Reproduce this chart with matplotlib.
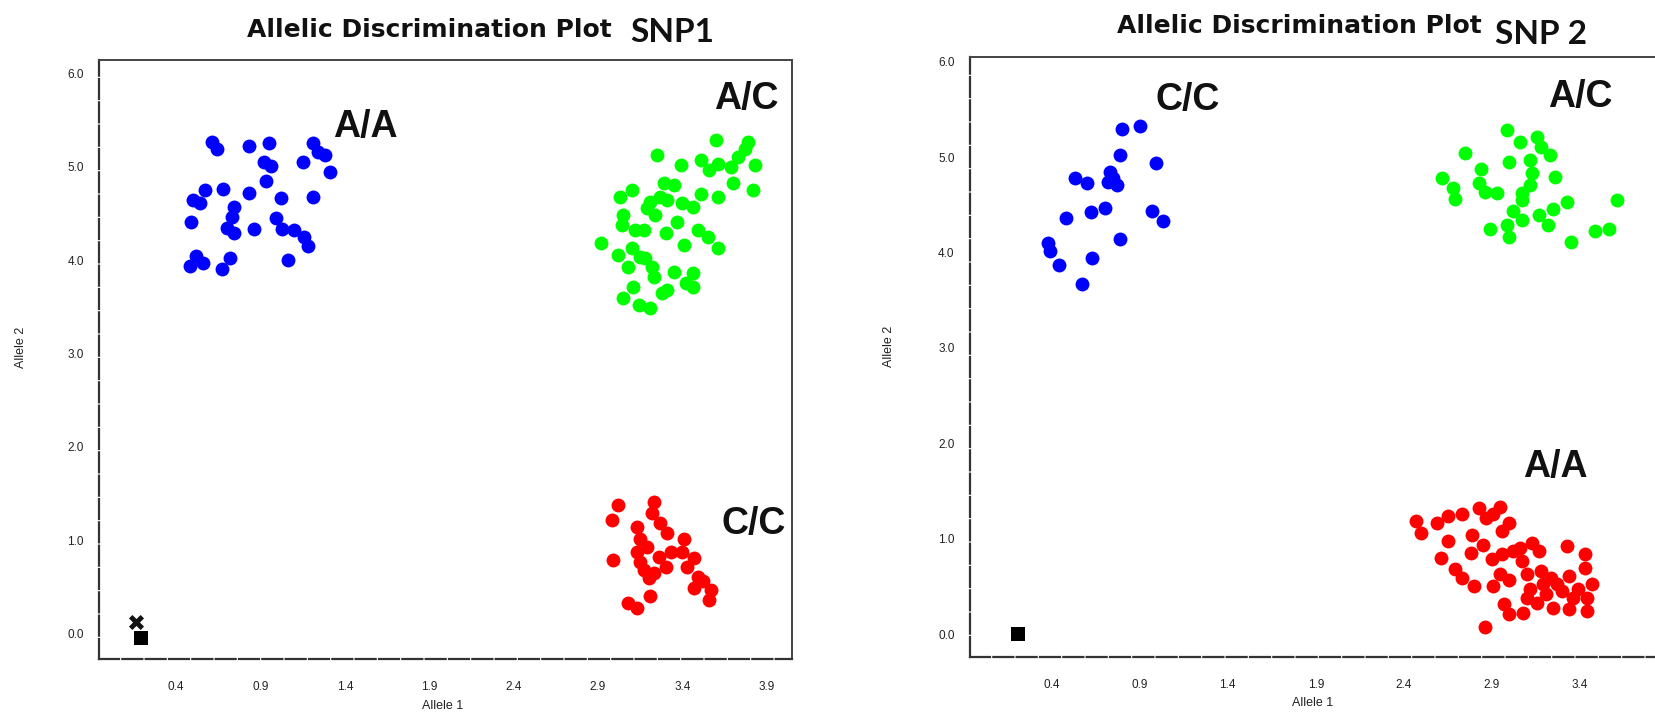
import numpy as np
from matplotlib import pyplot as plt

''' data read off the two allelic discrimination plots '''
x_ticks = [0.4, 0.9, 1.4, 1.9, 2.4, 2.9, 3.4, 3.9]
y_ticks = [0.0, 1.0, 2.0, 3.0, 4.0, 5.0, 6.0]

# SNP1
snp1_aa_x = [0.61, 0.64, 0.83, 0.95, 0.92, 0.96, 0.93, 1.21, 1.24, 1.28, 1.15, 1.31,
             0.57, 0.50, 0.54, 0.68, 0.83, 1.02, 1.21, 0.74, 0.73, 0.49, 0.70, 0.74,
             0.86, 0.99, 1.03, 1.10, 1.16, 1.18, 0.52, 0.48, 0.56, 0.72, 0.67, 1.06]
snp1_aa_y = [5.26, 5.19, 5.22, 5.25, 5.05, 5.01, 4.85, 5.25, 5.16, 5.12, 5.05, 4.94,
             4.75, 4.64, 4.61, 4.76, 4.72, 4.66, 4.67, 4.57, 4.46, 4.41, 4.34, 4.29,
             4.33, 4.45, 4.33, 4.32, 4.25, 4.15, 4.04, 3.94, 3.97, 4.02, 3.90, 4.00]

snp1_ac_x = [3.60, 3.79, 3.77, 3.25, 3.39, 3.51, 3.56, 3.61, 3.69, 3.73, 3.83, 3.29,
             3.35, 3.10, 3.03, 3.51, 3.61, 3.70, 3.82, 3.21, 3.27, 3.31, 3.40, 3.46,
             3.19, 3.24, 3.05, 3.04, 3.12, 3.17, 3.37, 3.30, 3.49, 3.55, 3.41, 3.61,
             2.92, 3.02, 3.10, 3.15, 3.08, 3.22, 3.23, 3.35, 3.46, 3.42, 3.46, 3.11,
             3.05, 3.14, 3.21, 3.28, 3.31, 3.18]
snp1_ac_y = [5.28, 5.26, 5.19, 5.12, 5.02, 5.07, 4.96, 5.03, 5.00, 5.10, 5.02, 4.82,
             4.80, 4.75, 4.67, 4.71, 4.67, 4.82, 4.75, 4.62, 4.67, 4.64, 4.61, 4.57,
             4.56, 4.48, 4.48, 4.37, 4.32, 4.32, 4.41, 4.29, 4.32, 4.25, 4.16, 4.13,
             4.18, 4.05, 4.13, 4.03, 3.93, 3.93, 3.82, 3.87, 3.86, 3.75, 3.71, 3.71,
             3.59, 3.52, 3.49, 3.65, 3.68, 4.02]

snp1_cc_x = [3.02, 2.98, 3.23, 3.22, 3.13, 3.27, 3.31, 3.41, 3.15, 2.99, 3.13, 3.19,
             3.26, 3.33, 3.40, 3.47, 3.43, 3.17, 3.23, 3.30, 3.20, 3.49, 3.52, 3.47,
             3.57, 3.56, 3.08, 3.13, 3.21, 3.15]
snp1_cc_y = [1.38, 1.22, 1.41, 1.29, 1.14, 1.19, 1.08, 1.01, 1.01, 0.79, 0.87, 0.93,
             0.82, 0.87, 0.87, 0.81, 0.72, 0.68, 0.65, 0.72, 0.60, 0.61, 0.56, 0.49,
             0.47, 0.36, 0.33, 0.28, 0.40, 0.77]

snp1_undet_x = [0.16]
snp1_undet_y = [0.13]
snp1_ntc_x = [0.19]
snp1_ntc_y = [-0.04]

# SNP 2
snp2_cc_x = [0.80, 0.90, 0.79, 0.99, 0.53, 0.60, 0.73, 0.72, 0.77, 0.70, 0.62,
             0.48, 0.97, 1.03, 0.79, 0.38, 0.39, 0.44, 0.63, 0.57, 0.75]
snp2_cc_y = [5.30, 5.33, 5.02, 4.94, 4.78, 4.73, 4.84, 4.74, 4.71, 4.47, 4.42,
             4.36, 4.44, 4.33, 4.14, 4.10, 4.02, 3.87, 3.94, 3.67, 4.78]

snp2_ac_x = [2.99, 2.75, 3.06, 3.16, 3.18, 3.23, 3.00, 3.12, 2.84, 3.13, 3.26,
             2.62, 2.68, 2.83, 2.86, 2.93, 3.07, 3.12, 2.69, 3.07, 3.61, 3.33,
             3.25, 3.02, 3.17, 3.07, 3.22, 2.89, 2.99, 3.00, 3.49, 3.57, 3.35]
snp2_ac_y = [5.28, 5.04, 5.16, 5.21, 5.11, 5.02, 4.95, 4.97, 4.88, 4.83, 4.79,
             4.78, 4.68, 4.73, 4.63, 4.62, 4.62, 4.71, 4.56, 4.55, 4.55, 4.53,
             4.46, 4.44, 4.39, 4.34, 4.29, 4.25, 4.29, 4.16, 4.23, 4.25, 4.11]

snp2_aa_x = [2.47, 2.50, 2.59, 2.65, 2.73, 2.83, 2.95, 2.87, 3.00, 2.96, 2.65,
             2.79, 2.61, 2.78, 2.85, 2.69, 2.73, 2.80, 2.91, 2.90, 2.96, 3.02,
             3.13, 3.17, 3.07, 2.95, 3.00, 3.10, 3.18, 3.24, 3.33, 3.43, 3.43,
             3.34, 3.47, 3.12, 3.21, 3.30, 3.39, 2.97, 3.00, 3.08, 3.16, 3.25,
             3.34, 3.44, 2.86, 3.44, 3.10, 3.27, 3.36, 3.19, 3.06, 2.91]
snp2_aa_y = [1.19, 1.06, 1.16, 1.24, 1.26, 1.32, 1.33, 1.22, 1.17, 1.08, 0.98,
             1.04, 0.80, 0.85, 0.93, 0.68, 0.59, 0.50, 0.50, 0.79, 0.84, 0.87,
             0.96, 0.87, 0.77, 0.63, 0.57, 0.63, 0.66, 0.59, 0.92, 0.84, 0.69,
             0.61, 0.53, 0.47, 0.42, 0.45, 0.47, 0.32, 0.21, 0.22, 0.33, 0.27,
             0.26, 0.24, 0.08, 0.38, 0.38, 0.53, 0.38, 0.53, 0.90, 1.26]

snp2_ntc_x = [0.21]
snp2_ntc_y = [0.0]


''' drawing '''
BLUE = '#0000ff'
GREEN = '#00ff00'
RED = '#ff0000'
DOT = 100

fig = plt.figure(figsize=(16.56, 7.13), dpi=100)


def setup_axes(ax, xlim, ylim, xt):
    ax.set_xlim(xlim)
    ax.set_ylim(ylim)
    ax.set_xticks(xt)
    ax.set_xticklabels(['%.1f' % t for t in xt])
    ax.set_yticks(y_ticks)
    ax.set_yticklabels(['%.1f' % t for t in y_ticks])
    ax.tick_params(axis='both', length=0, labelsize=8.5, colors='#222222',
                   labelfontfamily='Liberation Sans')
    ax.tick_params(axis='x', pad=16)
    ax.tick_params(axis='y', pad=11)
    for side in ['left', 'bottom']:
        ax.spines[side].set_linestyle((0, (9, 1.5)))
        ax.spines[side].set_linewidth(1.6)
        ax.spines[side].set_color('#333333')
    for side in ['top', 'right']:
        ax.spines[side].set_linewidth(1.4)
        ax.spines[side].set_color('#444444')


lbl = dict(fontsize=27, fontweight='bold', family='Liberation Sans', color='#111111')

# SNP1
ax1 = fig.add_axes([0.0598, 0.0757, 0.4185, 0.8401])
ax1.scatter(snp1_aa_x, snp1_aa_y, s=DOT, c=BLUE, linewidths=0)
ax1.scatter(snp1_ac_x, snp1_ac_y, s=DOT, c=GREEN, linewidths=0)
ax1.scatter(snp1_cc_x, snp1_cc_y, s=DOT, c=RED, linewidths=0)
ax1.scatter(snp1_undet_x, snp1_undet_y, s=70, marker='x', c='#111111', linewidths=3.5)
ax1.scatter(snp1_ntc_x, snp1_ntc_y, s=110, marker='s', c='black', linewidths=0)
setup_axes(ax1, (-0.057, 4.05), (-0.27, 6.14), x_ticks)
ax1.text(1.33, 5.42, 'A/A', va='center', **lbl)
ax1.text(3.59, 5.72, 'A/C', va='center', **lbl)
ax1.text(3.63, 1.17, 'C/C', va='center', **lbl)

# SNP 2 (right edge runs off the picture, so no 3.9 label there)
ax2 = fig.add_axes([0.5857, 0.0785, 0.4372, 0.8416])
ax2.scatter(snp2_cc_x, snp2_cc_y, s=DOT, c=BLUE, linewidths=0)
ax2.scatter(snp2_ac_x, snp2_ac_y, s=DOT, c=GREEN, linewidths=0)
ax2.scatter(snp2_aa_x, snp2_aa_y, s=DOT, c=RED, linewidths=0)
ax2.scatter(snp2_ntc_x, snp2_ntc_y, s=100, marker='s', c='black', linewidths=0)
setup_axes(ax2, (-0.066, 4.05), (-0.24, 6.05), x_ticks[:-1])
ax2.text(0.99, 5.60, 'C/C', va='center', **lbl)
ax2.text(3.22, 5.63, 'A/C', va='center', **lbl)
ax2.text(3.08, 1.75, 'A/A', va='center', **lbl)

# titles
ttl = dict(fontsize=18, fontweight='bold', family='DejaVu Sans', color='#111111', va='center')
snp = dict(fontsize=24, fontweight='bold', family='Lato', color='#111111', va='center')
fig.text(247 / 1656, 1 - 30 / 713, 'Allelic Discrimination Plot', **ttl)
fig.text(630 / 1656, 1 - 32 / 713, 'SNP1', **snp)
fig.text(1117 / 1656, 1 - 26 / 713, 'Allelic Discrimination Plot', **ttl)
fig.text(1495 / 1656, 1 - 34 / 713, 'SNP 2', **snp)

# axis names
ax_lbl = dict(fontsize=9, family='Liberation Sans', color='#222222', ha='center', va='center')
fig.text(443 / 1656, 1 - 706 / 713, 'Allele 1', **ax_lbl)
fig.text(1313 / 1656, 1 - 703 / 713, 'Allele 1', **ax_lbl)
fig.text(21 / 1656, 1 - 347 / 713, 'Allele 2', rotation=90, **ax_lbl)
fig.text(889 / 1656, 1 - 346 / 713, 'Allele 2', rotation=90, **ax_lbl)

plt.savefig('out.png', dpi=100)
